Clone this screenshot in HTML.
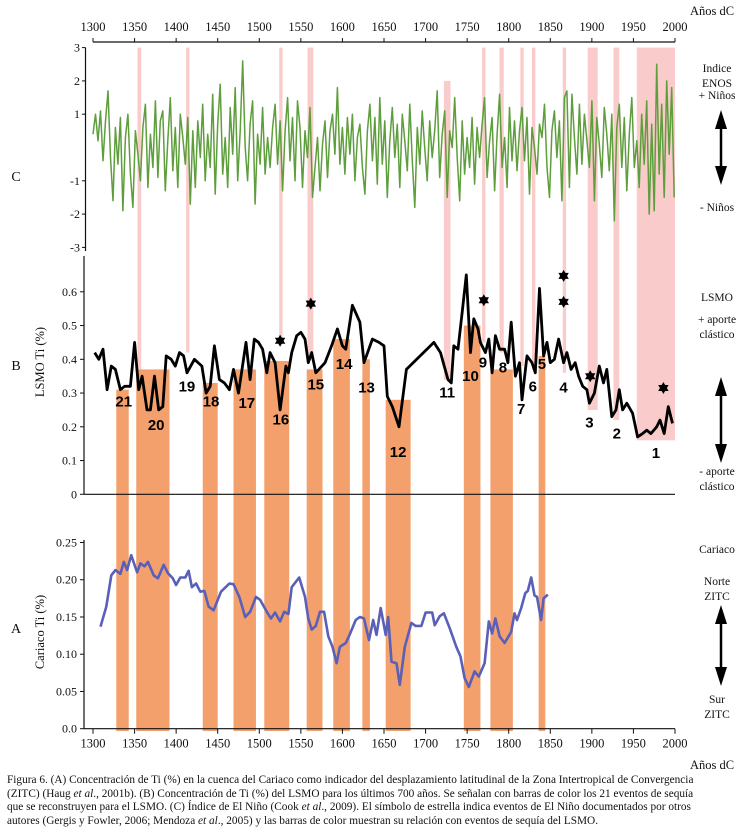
<!DOCTYPE html>
<html><head><meta charset="utf-8">
<style>
html,body{margin:0;padding:0;background:#fff;}
#wrap{position:relative;width:743px;height:837px;overflow:hidden;}
svg{position:absolute;left:0;top:0;}
.cap{position:absolute;left:7px;top:774px;width:780px;font-family:"Liberation Serif",serif;font-size:11.3px;line-height:13.7px;color:#111;white-space:nowrap;}
</style></head>
<body>
<div id="wrap">
<svg id="chart" width="743" height="837" viewBox="0 0 743 837" font-family="Liberation Serif, serif"></svg>
<div class="cap">
Figura 6. (A) Concentración de Ti (%) en la cuenca del Cariaco como indicador del desplazamiento latitudinal de la Zona Intertropical de Convergencia<br>
(ZITC) (Haug <i>et al</i>., 2001b). (B) Concentración de Ti (%) del LSMO para los últimos 700 años. Se señalan con barras de color los 21 eventos de sequía<br>
que se reconstruyen para el LSMO. (C) Índice de El Niño (Cook <i>et al</i>., 2009). El símbolo de estrella indica eventos de El Niño documentados por otros<br>
autores (Gergis y Fowler, 2006; Mendoza <i>et al</i>., 2005) y las barras de color muestran su relación con eventos de sequía del LSMO.
</div>
</div>
<script>
// ---- data ----
const ensoStartYear = 1300;
const ensoStepYears = 3;
const ensoValues = [
0.4,1.0,0.2,1.1,-0.4,0.8,1.7,-0.3,-1.6,0.6,
-0.5,0.9,-1.9,0.3,1.0,-0.8,-1.8,0.5,-0.2,-1.0,
0.6,1.3,-1.2,0.4,-0.6,1.4,-0.9,0.8,1.1,-1.3,
0.2,1.5,-0.7,0.6,-1.2,1.0,0.3,-0.5,0.9,-1.7,
0.5,-1.2,0.8,-0.3,1.3,-1.0,0.4,-0.6,1.6,-1.4,
0.7,1.9,-0.8,0.3,-1.2,1.2,-0.2,1.8,-1.0,0.5,
2.6,0.0,-1.0,0.7,1.4,-1.7,0.4,-0.5,1.2,-0.8,
0.3,-0.6,0.6,1.3,-0.5,0.8,-1.3,0.5,1.5,-0.4,
0.9,-1.0,1.4,0.6,-1.2,0.5,-0.3,1.2,-1.5,-0.6,
0.3,-1.3,0.1,0.8,-0.9,0.5,1.0,-0.2,1.8,-0.5,
0.6,-0.8,0.9,-0.2,1.0,-1.0,0.3,0.7,-0.6,-1.4,
0.5,1.3,-0.4,0.9,-1.1,1.5,-0.5,0.8,-1.5,0.2,
1.2,-0.3,0.7,-1.2,1.0,0.2,-0.7,1.3,-0.4,-1.8,
0.6,-0.5,1.1,0.0,-1.0,0.8,-0.3,0.5,1.7,-0.9,
0.4,1.1,-1.5,0.5,0.0,1.5,-0.3,-1.6,0.8,-0.8,
0.3,-0.6,0.9,-1.1,0.6,-0.3,0.7,1.5,-0.9,0.2,
0.9,-1.3,0.4,1.6,-0.6,0.3,-1.2,1.2,-0.4,0.8,
-0.7,0.5,1.2,-0.4,0.9,-1.4,0.6,0.0,-0.8,0.7,
0.3,1.3,-0.6,-1.5,0.5,1.1,-0.3,0.8,-1.6,1.5,
1.7,-1.2,1.6,0.3,-0.8,1.3,-0.5,1.0,0.2,-0.6,
1.4,-1.6,0.9,0.1,-0.9,1.2,0.4,-0.7,1.0,-2.2,
0.6,1.3,-0.6,0.9,-1.3,0.4,1.5,-0.6,0.2,-1.2,
1.0,-0.5,1.4,-2.0,0.7,-1.9,2.5,-0.8,1.3,-1.5,
2.0,-0.2,1.8,-1.5];

const lsmoYears = [1302,1307,1312,1317,1322,1327,1333,1338,1345,1350,1355,1359,1365,1369,1374,1379,1384,1388,1394,1399,1404,1409,1413,1422,1431,1436,1441,1446,1452,1458,1464,1469,1475,1484,1489,1494,1499,1504,1509,1513,1519,1525,1532,1535,1539,1545,1550,1555,1559,1563,1568,1579,1587,1594,1600,1604,1612,1621,1626,1636,1644,1650,1654,1660,1668,1677,1710,1718,1727,1731,1734,1739,1744,1749,1754,1758,1763,1766,1772,1776,1780,1784,1789,1795,1799,1803,1808,1813,1816,1822,1828,1832,1837,1842,1846,1850,1855,1860,1866,1870,1875,1880,1884,1889,1894,1897,1903,1909,1914,1918,1924,1929,1933,1937,1942,1949,1955,1961,1966,1971,1978,1982,1987,1992,1997];
const lsmoValues = [0.42,0.40,0.43,0.31,0.38,0.37,0.31,0.32,0.32,0.45,0.31,0.35,0.25,0.25,0.35,0.25,0.26,0.41,0.40,0.38,0.42,0.41,0.36,0.40,0.38,0.30,0.32,0.44,0.34,0.33,0.31,0.37,0.30,0.45,0.34,0.46,0.45,0.43,0.36,0.42,0.39,0.25,0.38,0.36,0.42,0.47,0.48,0.46,0.39,0.42,0.36,0.39,0.44,0.49,0.44,0.43,0.56,0.51,0.39,0.46,0.45,0.44,0.29,0.26,0.20,0.37,0.45,0.42,0.34,0.33,0.44,0.43,0.54,0.65,0.42,0.52,0.49,0.45,0.42,0.46,0.36,0.47,0.43,0.43,0.39,0.51,0.35,0.39,0.28,0.41,0.39,0.36,0.61,0.41,0.45,0.39,0.40,0.46,0.39,0.42,0.37,0.39,0.35,0.32,0.31,0.27,0.30,0.38,0.33,0.37,0.23,0.25,0.31,0.25,0.27,0.24,0.17,0.18,0.19,0.18,0.20,0.22,0.18,0.26,0.21];

const cariacoYears = [1309,1316,1322,1327,1333,1337,1341,1346,1353,1357,1362,1366,1373,1378,1385,1390,1396,1400,1405,1411,1415,1419,1424,1429,1434,1439,1445,1454,1464,1469,1476,1483,1489,1496,1501,1508,1514,1519,1525,1530,1535,1539,1548,1555,1559,1563,1568,1573,1578,1583,1588,1593,1597,1604,1609,1616,1621,1626,1632,1637,1641,1646,1652,1655,1659,1665,1669,1675,1683,1688,1695,1700,1708,1711,1717,1722,1729,1737,1742,1747,1752,1759,1764,1771,1776,1780,1784,1789,1795,1803,1807,1810,1815,1820,1823,1827,1831,1834,1839,1842,1847];
const cariacoValues = [0.137,0.164,0.206,0.213,0.208,0.224,0.213,0.233,0.210,0.222,0.218,0.224,0.206,0.202,0.220,0.209,0.202,0.193,0.203,0.203,0.212,0.190,0.195,0.184,0.185,0.164,0.159,0.184,0.195,0.194,0.177,0.150,0.157,0.177,0.173,0.159,0.148,0.156,0.144,0.157,0.154,0.190,0.203,0.177,0.148,0.133,0.138,0.157,0.157,0.124,0.110,0.088,0.110,0.115,0.127,0.146,0.150,0.148,0.119,0.146,0.126,0.162,0.126,0.150,0.090,0.088,0.059,0.110,0.142,0.138,0.138,0.156,0.156,0.139,0.151,0.155,0.135,0.110,0.097,0.068,0.056,0.077,0.070,0.088,0.144,0.128,0.148,0.124,0.115,0.130,0.155,0.146,0.162,0.182,0.185,0.203,0.179,0.177,0.146,0.175,0.180];

const droughtStart = [1328,1352,1432,1469,1506,1557,1589,1624,1652,1746,1778,1836];
const droughtEnd   = [1343,1392,1450,1496,1536,1576,1609,1633,1682,1766,1805,1844];
const droughtTop   = [0.31,0.37,0.33,0.37,0.395,0.37,0.46,0.40,0.28,0.50,0.37,0.41];

const ninoStart  = [1353.5,1412,1524,1558,1722,1768,1789,1814,1828,1865,1895,1926,1954];
const ninoEnd    = [1358,1416,1528,1565,1730,1772,1794,1818,1832,1869,1907,1933,2000];
const ninoTopC   = [3,3,3,3,2,3,3,3,3,3,3,3,3];
const ninoBottomB= [0.37,0.42,0.45,0.40,0.34,0.45,0.42,0.38,0.37,0.36,0.25,0.22,0.16];

const starYears  = [1525,1562,1770,1866,1866,1898,1986];
const starValues = [0.455,0.565,0.575,0.647,0.57,0.35,0.315];

const eventLabels = ["21","20","19","18","17","16","15","14","13","12","11","10","9","8","7","6","5","4","3","2","1"];
const eventLabelYears = [1337,1376,1413,1442,1485,1526,1568,1602,1629,1667,1726,1754,1769,1793,1815,1829,1840,1866,1897,1930,1977];
const eventLabelValues = [0.275,0.205,0.32,0.275,0.27,0.222,0.325,0.386,0.317,0.125,0.302,0.35,0.39,0.375,0.253,0.32,0.386,0.317,0.213,0.18,0.122];

const yearTicks = [1300,1350,1400,1450,1500,1550,1600,1650,1700,1750,1800,1850,1900,1950,2000];
const cTicks = [3,2,1,-1,-2,-3];
const bTicks = [0.6,0.5,0.4,0.3,0.2,0.1,0];
const bTickLabels = ["0.6","0.5","0.4","0.3","0.2","0.1","0"];
const aTicks = [0.25,0.20,0.15,0.10,0.05,0];
const aTickLabels = ["0.25","0.20","0.15","0.10","0.05","0.0"];

// ---- scales ----
const X = yr => 93 + (yr-1300)*(582/700);
const yC = v => 147.5 - v*33.3;
const yB = v => 494.3 - v*337.5;
const yA = v => 728.7 - v*744.8;

const svg = document.getElementById('chart');
const NS = 'http://www.w3.org/2000/svg';
function mk(tag, attrs, parent){
  const e = document.createElementNS(NS, tag);
  for (const k in attrs) e.setAttribute(k, attrs[k]);
  (parent||svg).appendChild(e);
  return e;
}
function txt(x,y,s,opts,parent){
  const t = mk('text', Object.assign({x:x,y:y,'font-size':12,fill:'#111'}, opts||{}), parent);
  t.textContent = s;
  return t;
}

// pink El Niño bars
const gPink = mk('g',{});


for (let i=0;i<ninoStart.length;i++){
  const r = mk('rect',{x:X(ninoStart[i]),y:yC(ninoTopC[i]),width:X(ninoEnd[i])-X(ninoStart[i]),height:yB(ninoBottomB[i])-yC(ninoTopC[i]),fill:'#f9cbcb'},gPink);
  
  
}
// orange drought bars
const gOr = mk('g',{});


for (let i=0;i<droughtStart.length;i++){
  const r = mk('rect',{x:X(droughtStart[i]),y:yB(droughtTop[i]),width:X(droughtEnd[i])-X(droughtStart[i]),height:731-yB(droughtTop[i]),fill:'#f4a06c'},gOr);
  
  
}

// ---- top axis ----
const gTop = mk('g',{});


mk('line',{x1:X(1300),x2:X(2000),y1:42,y2:42,stroke:'#111','stroke-width':1.3},gTop);
yearTicks.forEach(yr=>{
  mk('line',{x1:X(yr),x2:X(yr),y1:38,y2:42,stroke:'#111','stroke-width':1},gTop);
  const t = txt(X(yr),31,String(yr),{'text-anchor':'middle','font-size':12.5},gTop);
  
  
});
const at = txt(712,15,'Años dC',{'text-anchor':'middle','font-size':12.5});



// ---- panel C ----
const gC = mk('g',{});


mk('line',{x1:85.5,x2:85.5,y1:yC(3),y2:251,stroke:'#111','stroke-width':1.2},gC);
cTicks.forEach(v=>{
  mk('line',{x1:82,x2:85.5,y1:yC(v),y2:yC(v),stroke:'#111'},gC);
  const t = txt(80,yC(v)+4,String(v),{'text-anchor':'end','font-size':12},gC);
  
  
});
let dC='';
ensoValues.forEach((v,i)=>{ const yr=ensoStartYear+i*ensoStepYears; dC+=(i?'L':'M')+X(yr).toFixed(1)+' '+yC(v).toFixed(1); });
const enso = mk('path',{d:dC,fill:'none',stroke:'#5e9e3c','stroke-width':1.5,'stroke-linejoin':'round'});



// ---- panel B ----
const gB = mk('g',{});


mk('line',{x1:84,x2:84,y1:256,y2:yB(0),stroke:'#111','stroke-width':1.2},gB);
mk('line',{x1:84,x2:X(2000),y1:yB(0),y2:yB(0),stroke:'#111','stroke-width':1.2},gB);
bTicks.forEach((v,i)=>{
  mk('line',{x1:80,x2:84,y1:yB(v),y2:yB(v),stroke:'#111'},gB);
  const t = txt(77,yB(v)+4,bTickLabels[i],{'text-anchor':'end','font-size':12},gB);
  
  
});
let dB='';
lsmoYears.forEach((yr,i)=>{ dB+=(i?'L':'M')+X(yr).toFixed(1)+' '+yB(lsmoValues[i]).toFixed(1); });
const lsmo = mk('path',{d:dB,fill:'none',stroke:'#000','stroke-width':2.8,'stroke-linejoin':'round'});



// stars
starYears.forEach((yr,i)=>{
  const cx=X(yr), cy=yB(starValues[i]), r=6;
  const tri = a => [0,1,2].map(k=>{const ang=a+k*2*Math.PI/3;return (cx+r*Math.sin(ang)).toFixed(1)+','+(cy-r*Math.cos(ang)).toFixed(1);}).join(' ');
  const g = mk('g',{});
  
  
  mk('polygon',{points:tri(0),fill:'#000'},g);
  mk('polygon',{points:tri(Math.PI),fill:'#000'},g);
});

// event labels
eventLabels.forEach((s,i)=>{
  const t = txt(X(eventLabelYears[i]),yB(eventLabelValues[i])+5,s,{'text-anchor':'middle','font-size':15,'font-weight':'bold','font-family':'Liberation Sans, sans-serif',fill:'#000'});
  
  
});

// ---- panel A ----
const gA = mk('g',{});


mk('line',{x1:84,x2:84,y1:540,y2:yA(0),stroke:'#111','stroke-width':1.2},gA);
mk('line',{x1:84,x2:X(2000),y1:yA(0),y2:yA(0),stroke:'#111','stroke-width':1.2},gA);
aTicks.forEach((v,i)=>{
  mk('line',{x1:80,x2:84,y1:yA(v),y2:yA(v),stroke:'#111'},gA);
  const t = txt(77,yA(v)+4,aTickLabels[i],{'text-anchor':'end','font-size':12},gA);
  
  
});
yearTicks.forEach(yr=>{
  mk('line',{x1:X(yr),x2:X(yr),y1:yA(0),y2:yA(0)+5,stroke:'#111'},gA);
  const t = txt(X(yr),747.5,String(yr),{'text-anchor':'middle','font-size':12.5},gA);
  
  
});
let dA='';
cariacoYears.forEach((yr,i)=>{ dA+=(i?'L':'M')+X(yr).toFixed(1)+' '+yA(cariacoValues[i]).toFixed(1); });
const car = mk('path',{d:dA,fill:'none',stroke:'#5a5fb8','stroke-width':2.6,'stroke-linejoin':'round'});


const bt = txt(712,769,'Años dC',{'text-anchor':'middle','font-size':12.5});



// panel letters and y titles
[['C',181],['B',370],['A',633]].forEach(p=>{
  const t = txt(16,p[1],p[0],{'text-anchor':'middle','font-size':14});
  
  
});
const yt1 = txt(0,0,'LSMO Ti (%)',{'text-anchor':'middle','font-size':12.5,transform:'translate(44,362) rotate(-90)'});


const yt2 = txt(0,0,'Cariaco Ti (%)',{'text-anchor':'middle','font-size':12.5,transform:'translate(44,632) rotate(-90)'});



// right annotations
function side(lines, name){
  const g = mk('g',{});
  
  
  lines.forEach(l=>txt(717,l[1],l[0],{'text-anchor':'middle','font-size':11.5},g));
}
side([['Indice',72],['ENOS',87],['+ Niños',99],['- Niños',211]],'enso-annotation');
side([['LSMO',301],['+ aporte',323],['clástico',338],['- aporte',475],['clástico',490]],'lsmo-annotation');
side([['Cariaco',553],['Norte',585],['ZITC',600],['Sur',703],['ZITC',718]],'cariaco-annotation');
function arrow(y1,y2,name){
  const g = mk('g',{});
  
  
  mk('line',{x1:721,x2:721,y1:y1+10,y2:y2-10,stroke:'#000','stroke-width':2.5},g);
  mk('polygon',{points:`715,${y1+19} 721,${y1} 727,${y1+19}`,fill:'#000'},g);
  mk('polygon',{points:`715,${y2-19} 721,${y2} 727,${y2-19}`,fill:'#000'},g);
}
arrow(110,185,'enso-arrow');
arrow(377,463,'lsmo-arrow');
arrow(605,686,'cariaco-arrow');
</script>
</body></html>
